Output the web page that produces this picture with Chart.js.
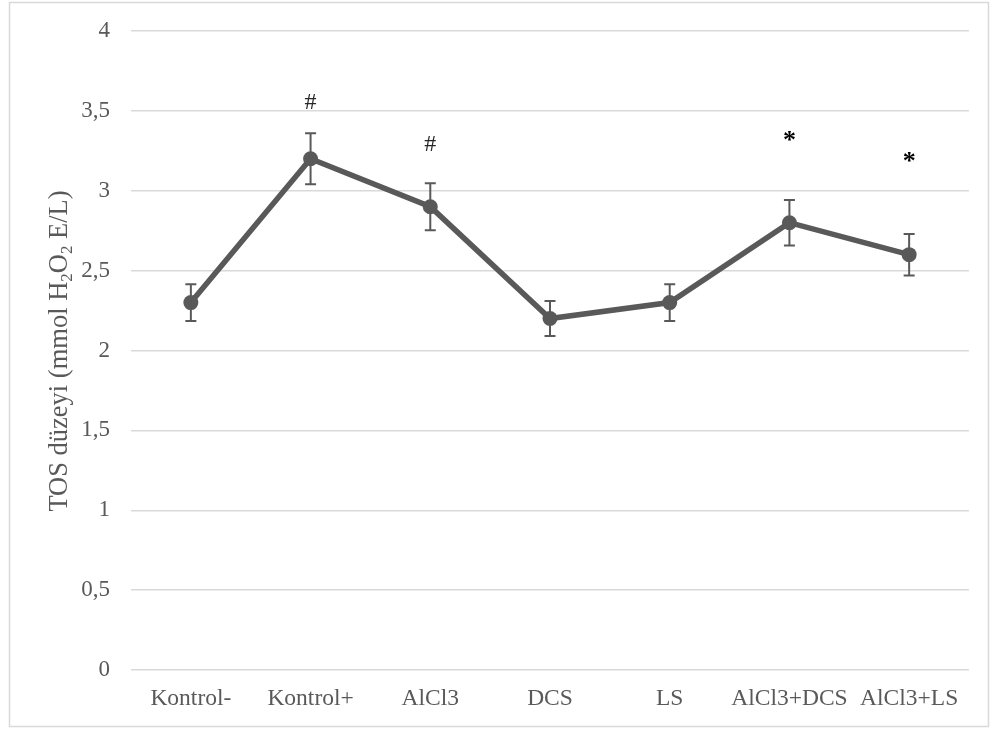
<!DOCTYPE html>
<html>
<head>
<meta charset="utf-8">
<script src="https://cdn.jsdelivr.net/npm/chart.js@4"></script>
<style>
  html, body { margin: 0; padding: 0; background: #fff; }
  #tosChart { display: block; }
</style>
</head>
<body>
<canvas id="tosChart" width="996" height="729"></canvas>
<script>
// TOS levels per group, mean and standard error
const groups = ['Kontrol-', 'Kontrol+', 'AlCl3', 'DCS', 'LS', 'AlCl3+DCS', 'AlCl3+LS']
const tosMean = [2.30, 3.20, 2.90, 2.20, 2.30, 2.80, 2.60]
const tosErr = [0.115, 0.16, 0.147, 0.11, 0.115, 0.142, 0.13]
// significance marks and the value height where each one sits
const sigMarks = ['', '#', '#', '', '', '*', '*']
const sigLevel = [0, 3.55, 3.29, 0, 0, 3.32, 3.19]
const yTicks = [0, 0.5, 1, 1.5, 2, 2.5, 3, 3.5, 4]

const grey = '#595959'
const serif = "'Liberation Serif', 'Times New Roman', serif"

const frame = {
  id: 'frame',
  beforeDraw(chart) {
    const ctx = chart.ctx
    ctx.save()
    ctx.fillStyle = '#fff'
    ctx.fillRect(0, 0, chart.width, chart.height)
    ctx.strokeStyle = '#d9d9d9'
    ctx.lineWidth = 1.5
    ctx.strokeRect(9.5, 2.5, 979, 724)
    ctx.restore()
  }
}

const errorBars = {
  id: 'errorBars',
  afterDatasetsDraw(chart) {
    const ctx = chart.ctx
    const x = chart.scales.x, y = chart.scales.y
    ctx.save()
    ctx.strokeStyle = grey
    ctx.lineWidth = 2
    tosMean.forEach((m, i) => {
      const px = x.getPixelForValue(i)
      const top = y.getPixelForValue(m + tosErr[i])
      const bot = y.getPixelForValue(m - tosErr[i])
      ctx.beginPath()
      ctx.moveTo(px, top); ctx.lineTo(px, bot)
      ctx.moveTo(px - 5.5, top); ctx.lineTo(px + 5.5, top)
      ctx.moveTo(px - 5.5, bot); ctx.lineTo(px + 5.5, bot)
      ctx.stroke()
    })
    // significance marks
    ctx.textAlign = 'center'
    ctx.textBaseline = 'middle'
    sigMarks.forEach((s, i) => {
      if (!s) return
      const px = x.getPixelForValue(i)
      const py = y.getPixelForValue(sigLevel[i])
      if (s === '*') {
        ctx.fillStyle = '#000'
        ctx.font = 'bold 26px ' + serif
        ctx.fillText(s, px, py + 2)
      } else {
        ctx.fillStyle = '#262626'
        ctx.font = '24px ' + serif
        ctx.fillText(s, px, py)
      }
    })
    ctx.restore()
  }
}

// rotated axis title with subscripted 2s
const yTitle = {
  id: 'yTitle',
  afterDraw(chart) {
    const ctx = chart.ctx
    const parts = [['TOS düzeyi (mmol H', false], ['2', true], ['O', false], ['2', true], [' E/L)', false]]
    const big = '26.5px ' + serif, small = '17px ' + serif
    let total = 0
    parts.forEach(([t, sub]) => { ctx.font = sub ? small : big; total += ctx.measureText(t).width })
    ctx.save()
    ctx.translate(67, 351)
    ctx.rotate(-Math.PI / 2)
    ctx.fillStyle = grey
    ctx.textBaseline = 'alphabetic'
    ctx.textAlign = 'left'
    let cx = -total / 2
    parts.forEach(([t, sub]) => {
      ctx.font = sub ? small : big
      ctx.fillText(t, cx, sub ? 5 : 0)
      cx += ctx.measureText(t).width
    })
    ctx.restore()
  }
}

new Chart(document.getElementById('tosChart'), {
  type: 'line',
  data: {
    labels: groups,
    datasets: [{
      data: tosMean,
      borderColor: grey,
      backgroundColor: grey,
      borderWidth: 5.5,
      pointRadius: 7.5,
      pointBackgroundColor: grey,
      pointBorderColor: grey,
      pointBorderWidth: 0,
      tension: 0
    }]
  },
  options: {
    responsive: false,
    animation: false,
    devicePixelRatio: 1,
    layout: { padding: { top: 31, left: 10, right: 27, bottom: 0 } },
    plugins: { legend: { display: false }, tooltip: { enabled: false } },
    scales: {
      x: {
        offset: true,
        grid: { display: false, drawTicks: false },
        border: { display: false },
        ticks: {
          color: grey, padding: 15, maxRotation: 0, autoSkip: false,
          font: { family: serif, size: 23.5 }
        },
        afterFit(scale) { scale.height = 59 }
      },
      y: {
        min: 0, max: 4,
        afterBuildTicks(scale) { scale.ticks = yTicks.map(v => ({ value: v })) },
        grid: { color: '#d9d9d9', lineWidth: 1.5, drawTicks: false },
        border: { display: false },
        ticks: {
          color: grey, padding: 21,
          font: { family: serif, size: 23 },
          callback: v => String(v).replace('.', ',')
        },
        afterFit(scale) {
          scale.width = 121
          scale.paddingTop = 0
          scale.paddingBottom = 0
        }
      }
    }
  },
  plugins: [frame, errorBars, yTitle]
})
</script>
</body>
</html>
